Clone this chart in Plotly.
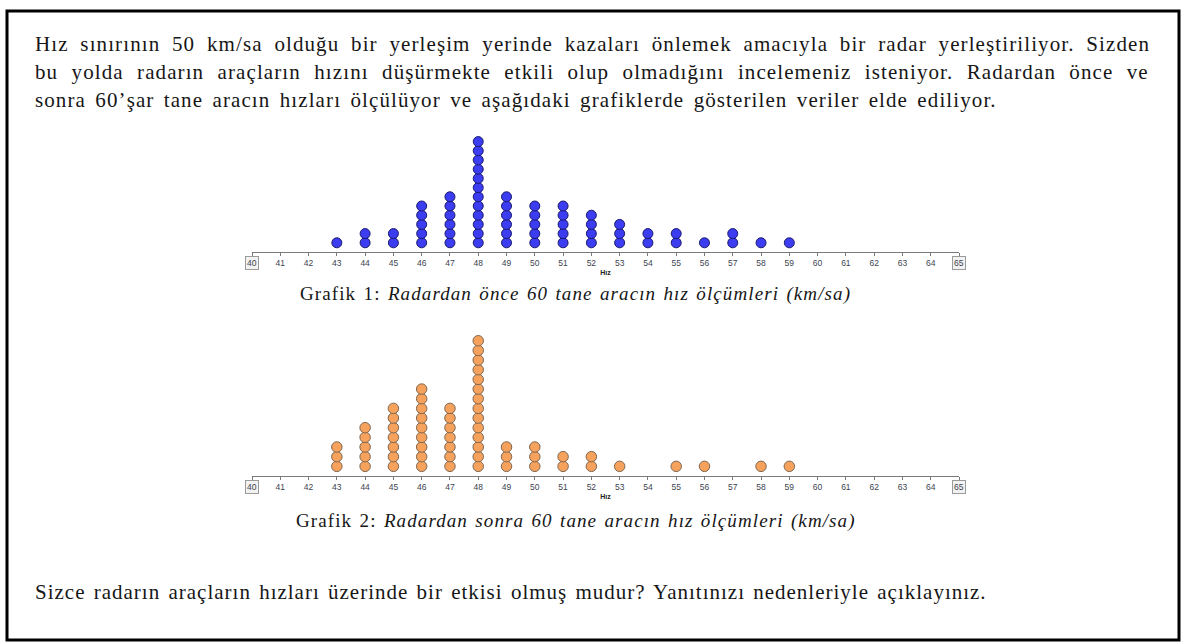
import plotly.graph_objects as go

W, H = 1183, 644

# hız değerleri ve her hızdaki araç sayıları (60'şar araç)
speeds = [43, 44, 45, 46, 47, 48, 49, 50, 51, 52, 53, 54, 55, 56, 57, 58, 59]
before_counts = [1, 2, 2, 5, 6, 12, 6, 5, 5, 4, 3, 2, 2, 1, 2, 1, 1]
after_counts = [3, 5, 7, 9, 7, 14, 3, 3, 2, 2, 1, 0, 1, 1, 0, 1, 1]

tick_vals = list(range(40, 66))
tick_text = [str(v) for v in tick_vals]

intro_lines = [
    "Hız sınırının 50 km/sa olduğu bir yerleşim yerinde kazaları önlemek amacıyla bir radar yerleştiriliyor. Sizden",
    "bu yolda radarın araçların hızını düşürmekte etkili olup olmadığını incelemeniz isteniyor. Radardan önce ve",
    "sonra 60’şar tane aracın hızları ölçülüyor ve aşağıdaki grafiklerde gösterilen veriler elde ediliyor.",
]
intro_wordspacing = [5.4, 7, 3]
caption1 = "Grafik 1: <i>Radardan önce 60 tane aracın hız ölçümleri (km/sa)</i>"
caption2 = "Grafik 2: <i>Radardan sonra 60 tane aracın hız ölçümleri (km/sa)</i>"
question = "Sizce radarın araçların hızları üzerinde bir etkisi olmuş mudur? Yanıtınızı nedenleriyle açıklayınız."


def px_x(p):
    return p / W


def px_y(p):
    return 1 - p / H


def stack(counts):
    xs, ys = [], []
    for s, n in zip(speeds, counts):
        for k in range(1, n + 1):
            xs.append(s)
            ys.append(k)
    return xs, ys


def spaced(txt, ls, ws=0):
    return '<span style="letter-spacing:%spx; word-spacing:%spx">%s</span>' % (ls, ws, txt)


fig = go.Figure()

x1, y1 = stack(before_counts)
x2, y2 = stack(after_counts)

fig.add_trace(go.Scatter(
    x=x1, y=y1, mode="markers", xaxis="x", yaxis="y", cliponaxis=False,
    marker=dict(size=10, color="#3c3cf0", line=dict(color="#1a1a6e", width=1)),
    hoverinfo="x", showlegend=False))
fig.add_trace(go.Scatter(
    x=x2, y=y2, mode="markers", xaxis="x2", yaxis="y2", cliponaxis=False,
    marker=dict(size=10.5, color="#f7a25c", line=dict(color="#7d6650", width=1)),
    hoverinfo="x", showlegend=False))

# eksen yerleşimi (piksel -> kağıt)
ax_left, ax_right = 252, 959
base1, unit1 = 252, 9.2
base2, unit2 = 476, 9.66
top1, top2 = 130, 330

xcommon = dict(
    range=[40, 65], tickvals=tick_vals,
    ticktext=["" if v in (40, 65) else t for v, t in zip(tick_vals, tick_text)],
    showline=True, linecolor="#7a7a7a", linewidth=1, ticks="outside", ticklen=3,
    tickcolor="#7a7a7a", showgrid=False, zeroline=False,
    tickfont=dict(family="Arial", size=8.5, color="#3d4450"),
    title=dict(text="<b>Hız</b>", font=dict(family="Arial", size=7, color="#222"), standoff=2),
    fixedrange=True,
)
fig.update_layout(
    xaxis=dict(domain=[px_x(ax_left), px_x(ax_right)], anchor="y", **xcommon),
    yaxis=dict(domain=[px_y(base1), px_y(top1)], range=[0, (base1 - top1) / unit1],
               visible=False, fixedrange=True),
    xaxis2=dict(domain=[px_x(ax_left), px_x(ax_right)], anchor="y2", **xcommon),
    yaxis2=dict(domain=[px_y(base2), px_y(top2)], range=[0, (base2 - top2) / unit2],
                visible=False, fixedrange=True),
)

ann = []
serif = "Liberation Serif, Times New Roman, serif"
for i, line in enumerate(intro_lines):
    ann.append(dict(text=spaced(line, 1.1, intro_wordspacing[i]),
                    x=px_x(33), y=px_y(44 + i * 28), xref="paper", yref="paper",
                    xanchor="left", yanchor="middle", showarrow=False,
                    font=dict(family=serif, size=21, color="#161616")))
ann.append(dict(text=spaced(caption1, 1.1, 1.5), x=px_x(575), y=px_y(294), xref="paper", yref="paper",
                xanchor="center", yanchor="middle", showarrow=False,
                font=dict(family=serif, size=19, color="#161616")))
ann.append(dict(text=spaced(caption2, 1.1, 1.5), x=px_x(576), y=px_y(521), xref="paper", yref="paper",
                xanchor="center", yanchor="middle", showarrow=False,
                font=dict(family=serif, size=19, color="#161616")))
ann.append(dict(text=spaced(question, 1.0, 2), x=px_x(33), y=px_y(592), xref="paper", yref="paper",
                xanchor="left", yanchor="middle", showarrow=False,
                font=dict(family=serif, size=21, color="#161616")))

# kutulu uç etiketleri (40 ve 65)
for xa, base in (("x", base1), ("x2", base2)):
    for v in (40, 65):
        ann.append(dict(text=str(v), x=v, xref=xa, y=px_y(base + 11), yref="paper",
                        xanchor="center", yanchor="middle", showarrow=False,
                        font=dict(family="Arial", size=8.5, color="#3d4450"),
                        bordercolor="#9a9a9a", borderwidth=1, borderpad=1, bgcolor="#f2f2f2"))

fig.update_layout(
    width=W, height=H, margin=dict(l=0, r=0, t=0, b=0),
    paper_bgcolor="white", plot_bgcolor="white",
    annotations=ann,
    shapes=[dict(type="rect", xref="paper", yref="paper",
                 x0=px_x(7), x1=px_x(1179), y0=px_y(640), y1=px_y(11),
                 line=dict(color="black", width=3))],
)

fig.write_html("out.html", config={"displayModeBar": False},
               post_script="document.body.style.margin='0';")
